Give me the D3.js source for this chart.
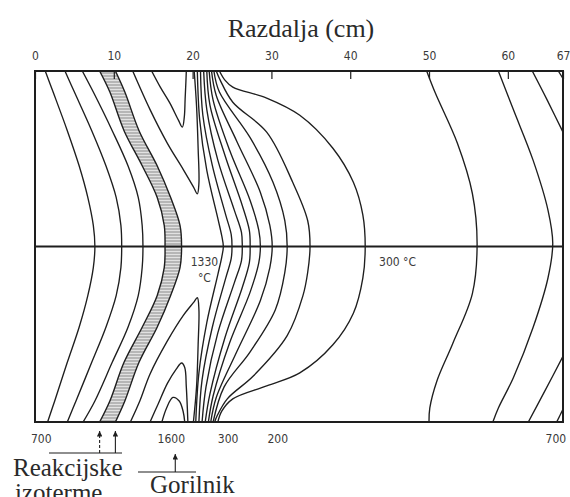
<!DOCTYPE html>
<html>
<head>
<meta charset="utf-8">
<script src="https://cdn.jsdelivr.net/npm/d3@7"></script>
<style>
  html, body { margin: 0; padding: 0; background: #fff; }
  svg { display: block; }
</style>
</head>
<body>
<svg id="chart" width="570" height="497"></svg>
<script>
// distance along the kiln (cm) on x, relative height 0..100 (top..bottom) on y
const topTicks = [0, 10, 20, 30, 40, 50, 60, 67];

// left isotherms (towards 700 °C side)
const leftIsotherms = [
  [[1.3,0],[2.3,6],[4.1,17],[5.6,27],[6.7,36],[7.4,44],[7.6,50],[7.4,56],[6.7,64],[5.6,73],[4.1,83],[2.5,94],[1.6,100]],
  [[3.8,0],[5.0,6],[7.2,17],[9.0,27],[10.3,36],[10.9,44],[11.0,50],[10.9,56],[10.3,64],[9.0,73],[7.2,83],[5.2,94],[4.1,100]],
  [[6.0,0],[7.4,6],[9.8,17],[11.8,27],[13.1,36],[13.6,44],[13.7,50],[13.6,56],[13.1,64],[11.8,73],[9.8,83],[7.6,94],[6.1,100]]
];

// reaction isotherm band (hatched)
const bandT     = [0, 6, 17, 27, 36, 44, 50, 56, 64, 73, 83, 94, 100];
const bandLeft  = [8.2, 9.5, 11.3, 13.6, 15.5, 16.4, 16.5, 16.4, 15.5, 13.6, 11.3, 9.5, 8.2];
const bandRight = [10.2, 11.4, 13.2, 15.5, 17.2, 18.4, 18.6, 18.4, 17.2, 15.5, 13.2, 11.4, 10.2];

// hot loops hanging from the top wall and rising from the bottom wall
const topLoops = [
  [[12.4,0],[14.6,11],[16.8,20.6],[18.8,28],[20.1,33],[20.6,35],[20.8,32],[20.7,22],[20.5,10],[20.2,0]],
  [[14.8,0],[15.9,4.6],[17.1,9.1],[18.2,14],[18.7,16],[18.95,13],[19.05,8],[19.15,3],[19.2,0]]
];
const bottomLoops = [
  [[12.1,100],[13.3,94],[14.6,86.3],[16.8,76.9],[18.8,69.7],[20.1,66],[20.6,64.6],[20.8,68],[20.7,78],[20.5,90],[20.1,100]],
  [[14.6,100],[15.6,95],[16.8,89],[17.9,85],[18.6,83.2],[19.0,84.5],[19.2,90],[19.4,100]],
  [[16.1,100],[16.7,96],[17.5,93],[18.3,94],[18.8,97],[19.0,100]]
];

// isotherms fanning out from the burner (innermost .. 300 °C)
const burnerIsotherms = [
  [[20.6,0],[20.9,14],[21.8,28.3],[23.2,42],[23.7,47],[23.9,50],[23.7,53],[23.2,58],[21.8,71.7],[20.8,86],[20.4,100]],
  [[21.0,0],[21.3,12.6],[22.5,26.9],[24.2,41],[24.9,46.6],[25.0,50],[24.9,53.4],[24.2,59],[22.5,73],[21.2,88],[20.8,100]],
  [[21.4,0],[21.8,11],[23.2,25.4],[25.3,39.7],[26.2,46],[26.3,50],[26.2,54],[25.3,60.3],[23.2,74.6],[21.7,90],[21.2,100]],
  [[21.8,0],[22.2,9.7],[24.1,24],[26.3,38.3],[27.2,45.4],[27.3,50],[27.2,54.6],[26.3,61.7],[24.1,76],[22.2,92],[21.6,100]],
  [[22.1,0],[22.6,8.3],[24.7,22.6],[27.3,36.9],[28.4,45.4],[28.6,50],[28.4,54.6],[27.3,63],[24.7,77.4],[22.6,92.6],[22.0,100]],
  [[22.4,0],[23.0,7],[25.6,20],[28.6,34.6],[29.8,44],[30.1,50],[29.8,56],[28.6,65.4],[25.6,80],[23.0,93],[22.3,100]],
  [[22.7,0],[23.4,6],[27.3,19],[30.2,31.7],[31.7,42.6],[32.0,50],[31.7,57.4],[30.5,68],[27.3,80],[24.0,90],[22.6,100]],
  [[23.0,0],[23.5,2.6],[25.1,8.9],[29.4,17.4],[32.7,31.7],[34.6,42.6],[34.9,50],[34.6,57.4],[34.0,64],[32.0,75.4],[27.7,86.9],[24.4,93.4],[23.1,98.3],[22.8,100]],
  [[23.4,0],[24.1,2.6],[25.1,4.6],[29.4,7.7],[33.6,12.6],[37.8,22],[40.4,31.7],[41.6,41],[41.9,50],[41.6,59],[40.4,69],[37.8,78],[33.6,86],[29.4,89.7],[25.1,93.4],[23.7,96.9],[23.2,100]]
];

// cooler isotherms towards the far end
const rightIsotherms = [
  [[49.7,0],[50.8,6.3],[53.6,20.6],[55.5,34.9],[56.1,49.1],[55.5,63.4],[53.0,77.7],[51.0,88.3],[50.1,96],[50.0,100]],
  [[58.8,0],[60.7,11],[63.2,25.4],[65.1,39.7],[65.7,49.1],[65.1,58.9],[63.2,73.1],[60.7,87.4],[58.8,96],[58.1,100]],
  [[63.1,0],[65.0,8.3],[67.3,18.8]],
  [[66.4,0],[67.3,3.2]],
  [[62.6,100],[64.5,92],[67.3,80]],
  [[66.2,100],[67.3,95]]
];

const bottomLabels = ["700", "1600", "300", "200", "700"];
const bottomLabelPos = [0.8, 17.3, 24.5, 30.8, 66.1];
const innerLabels = [
  { lines: ["1330", "°C"], cm: 21.5 },
  { lines: ["300 °C"], cm: 46.0 }
];

const x = d3.scaleLinear().domain([0, 67]).range([35, 563]);
const y = d3.scaleLinear().domain([0, 100]).range([71, 422]);
const ink = "#1e1e1e";
const numFont = "'DejaVu Sans Condensed', 'Liberation Sans Narrow', 'DejaVu Sans', sans-serif";
const serif = "'Liberation Serif', 'DejaVu Serif', serif";

const svg = d3.select("#chart");
const defs = svg.append("defs");

defs.append("clipPath").attr("id", "frame-clip")
  .append("rect")
  .attr("x", x(0)).attr("y", y(0))
  .attr("width", x(67) - x(0)).attr("height", y(100) - y(0));

const hatch = defs.append("pattern")
  .attr("id", "hatch")
  .attr("patternUnits", "userSpaceOnUse")
  .attr("width", 6).attr("height", 3);
hatch.append("rect").attr("width", 6).attr("height", 3).attr("fill", "#e2e2e2");
hatch.append("line").attr("x1", 0).attr("x2", 6).attr("y1", 1).attr("y2", 1)
  .attr("stroke", "#8a8a8a").attr("stroke-width", 1);

// arrowhead drawn along +x so orient="auto" follows the line
defs.append("marker")
  .attr("id", "arrow")
  .attr("viewBox", "0 0 6 6")
  .attr("refX", 6).attr("refY", 3)
  .attr("markerWidth", 5).attr("markerHeight", 5)
  .attr("orient", "auto")
  .append("path").attr("d", "M0,0 L6,3 L0,6 Z").attr("fill", ink);

const line = d3.line()
  .x((d) => x(d[0]))
  .y((d) => y(d[1]))
  .curve(d3.curveCatmullRom.alpha(0.5));

const plot = svg.append("g").attr("clip-path", "url(#frame-clip)");

// hatched reaction band
const bandRows = bandT.map((t, i) => ({ t, l: bandLeft[i], r: bandRight[i] }));
const bandArea = d3.area()
  .y((d) => y(d.t))
  .x0((d) => x(d.l))
  .x1((d) => x(d.r))
  .curve(d3.curveCatmullRom.alpha(0.5));
plot.append("path").datum(bandRows).attr("d", bandArea).attr("fill", "url(#hatch)");

const edgeLine = d3.line()
  .y((d) => y(d.t))
  .curve(d3.curveCatmullRom.alpha(0.5));
plot.append("path").datum(bandRows).attr("d", edgeLine.x((d) => x(d.l)))
  .attr("fill", "none").attr("stroke", ink).attr("stroke-width", 1.4);
plot.append("path").datum(bandRows).attr("d", edgeLine.x((d) => x(d.r)))
  .attr("fill", "none").attr("stroke", ink).attr("stroke-width", 1.4);

const allCurves = [].concat(leftIsotherms, topLoops, bottomLoops, burnerIsotherms, rightIsotherms);
plot.selectAll(".iso")
  .data(allCurves)
  .join("path")
  .attr("class", "iso")
  .attr("d", line)
  .attr("fill", "none")
  .attr("stroke", ink)
  .attr("stroke-width", 1.35);

// centre line
svg.append("line")
  .attr("x1", x(0)).attr("x2", x(67))
  .attr("y1", y(50)).attr("y2", y(50))
  .attr("stroke", ink).attr("stroke-width", 1.8);

// frame
svg.append("rect")
  .attr("x", x(0)).attr("y", y(0))
  .attr("width", x(67) - x(0)).attr("height", y(100) - y(0))
  .attr("fill", "none").attr("stroke", ink).attr("stroke-width", 2);

// top distance axis, ticks pointing into the frame
svg.append("g")
  .attr("transform", `translate(0,${y(0)})`)
  .call(d3.axisTop(x).tickValues(topTicks).tickSizeInner(-8).tickSizeOuter(0).tickPadding(11))
  .call((g) => g.select(".domain").remove())
  .call((g) => g.selectAll("line").attr("stroke", ink).attr("stroke-width", 1.2))
  .call((g) => g.selectAll("text")
    .attr("font-family", numFont).attr("font-size", 12).attr("fill", "#3a3a3a"));

svg.append("text")
  .attr("x", 301).attr("y", 37)
  .attr("text-anchor", "middle")
  .attr("font-family", serif).attr("font-size", 26).attr("fill", "#2a2a2a")
  .text("Razdalja (cm)");

// temperatures at the bottom wall
svg.append("g").selectAll("text")
  .data(bottomLabels)
  .join("text")
  .attr("x", (d, i) => x(bottomLabelPos[i]))
  .attr("y", y(100) + 21)
  .attr("text-anchor", "middle")
  .attr("font-family", numFont).attr("font-size", 12).attr("fill", "#3a3a3a")
  .text((d) => d);

// labels inside the frame
innerLabels.forEach((lab) => {
  const t = svg.append("text")
    .attr("x", x(lab.cm)).attr("y", y(50) + 19)
    .attr("text-anchor", "middle")
    .attr("font-family", numFont).attr("font-size", 12).attr("fill", "#3a3a3a");
  lab.lines.forEach((s, i) => {
    t.append("tspan").attr("x", x(lab.cm)).attr("dy", i === 0 ? 0 : 16).text(s);
  });
});

// reaction isotherm pointers
const reactY = 453;
svg.append("line")
  .attr("x1", 49).attr("x2", 122).attr("y1", reactY).attr("y2", reactY)
  .attr("stroke", ink).attr("stroke-width", 1.1);
[bandLeft[bandLeft.length - 1], bandRight[bandRight.length - 1]].forEach((cm, i) => {
  svg.append("line")
    .attr("x1", x(cm)).attr("x2", x(cm))
    .attr("y1", reactY).attr("y2", y(100) + 9)
    .attr("stroke", ink).attr("stroke-width", 1.1)
    .attr("stroke-dasharray", i === 0 ? "3,2" : null)
    .attr("marker-end", "url(#arrow)");
});
svg.append("text")
  .attr("x", 13).attr("y", 476)
  .attr("font-family", serif).attr("font-size", 25).attr("fill", "#2a2a2a")
  .text("Reakcijske");
svg.append("text")
  .attr("x", 15).attr("y", 501)
  .attr("font-family", serif).attr("font-size", 25).attr("fill", "#2a2a2a")
  .text("izoterme");

// burner pointer
const burnerY = 472;
svg.append("line")
  .attr("x1", 138).attr("x2", 196).attr("y1", burnerY).attr("y2", burnerY)
  .attr("stroke", ink).attr("stroke-width", 1.1);
svg.append("line")
  .attr("x1", x(17.8)).attr("x2", x(17.8))
  .attr("y1", burnerY).attr("y2", y(100) + 32)
  .attr("stroke", ink).attr("stroke-width", 1.1)
  .attr("marker-end", "url(#arrow)");
svg.append("text")
  .attr("x", 150).attr("y", 493)
  .attr("font-family", serif).attr("font-size", 25).attr("fill", "#2a2a2a")
  .text("Gorilnik");
</script>
</body>
</html>
